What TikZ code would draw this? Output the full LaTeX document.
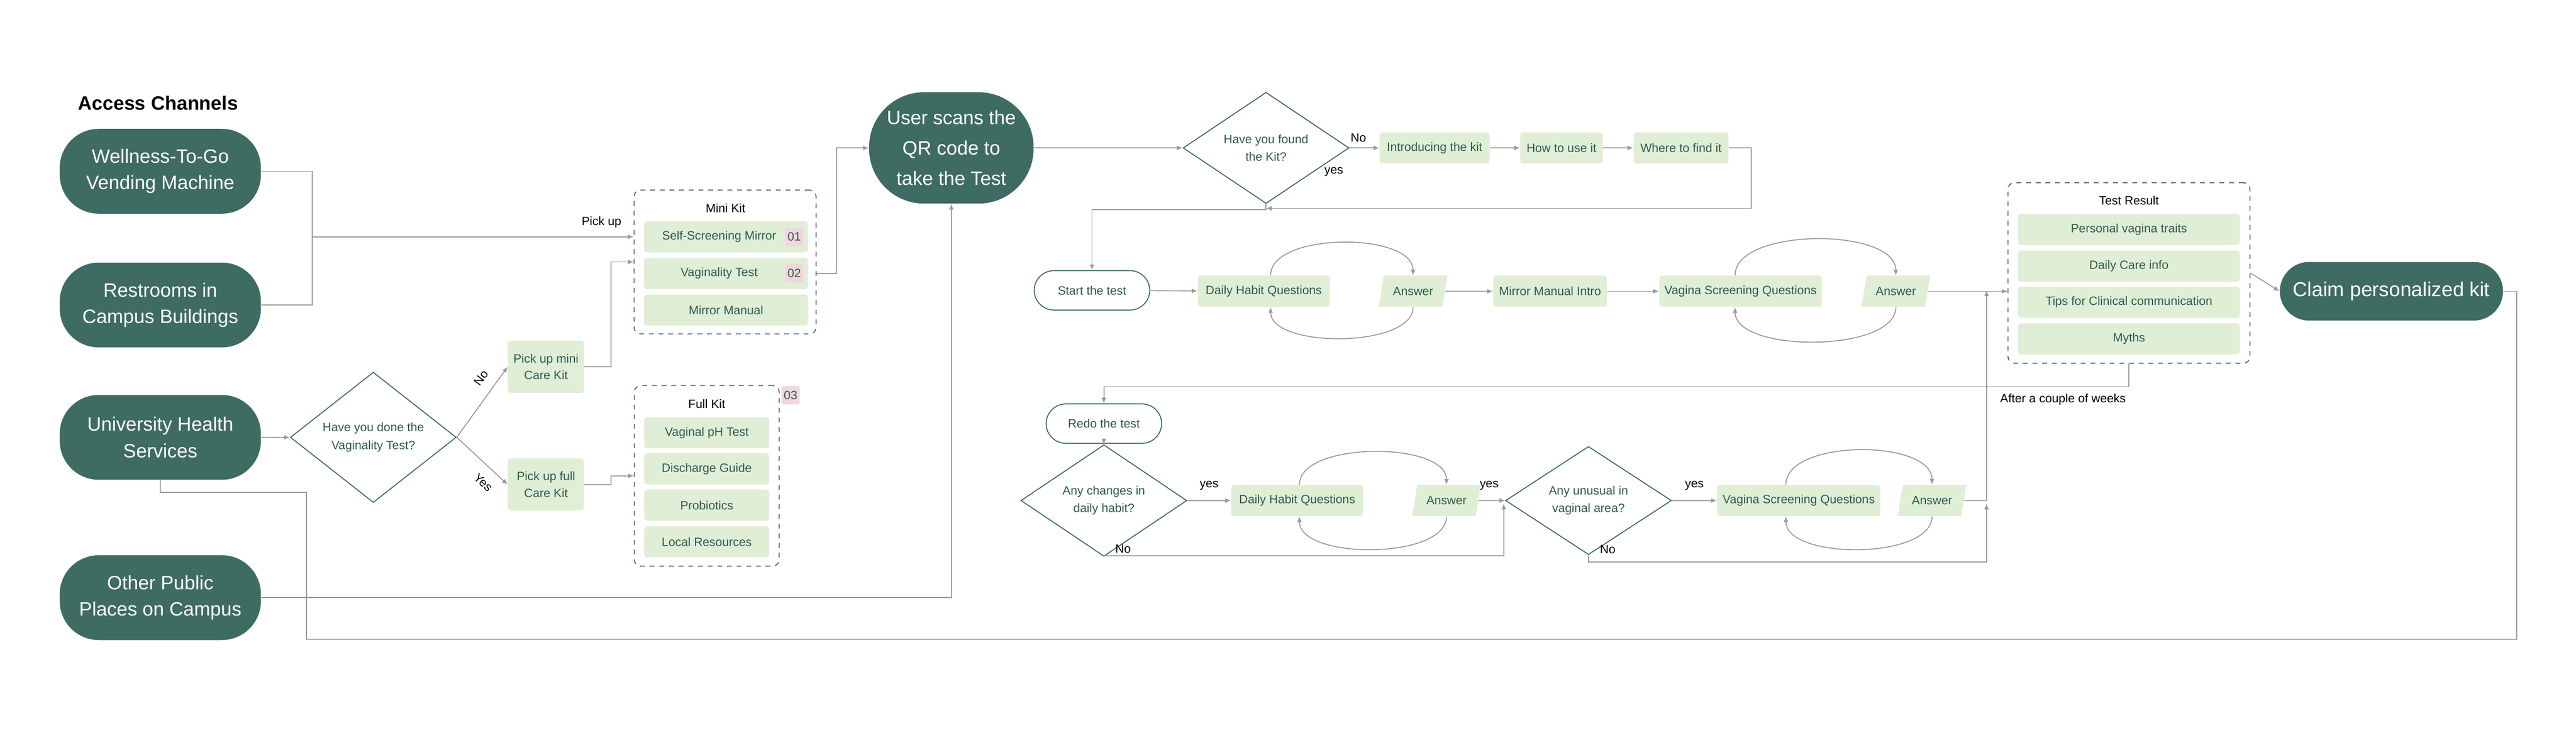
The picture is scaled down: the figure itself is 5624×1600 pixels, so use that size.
\documentclass[tikz,border=0pt]{standalone}
\usepackage{fontspec}
\setmainfont{Liberation Sans}
\usetikzlibrary{shapes.geometric,arrows.meta,positioning}
\definecolor{dkgreen}{HTML}{3E6B62}
\definecolor{ltgreen}{HTML}{E0EED6}
\definecolor{txtgreen}{HTML}{2E5B4F}
\definecolor{tagpink}{HTML}{F1D6DF}
\definecolor{linegray}{HTML}{9A9A9A}
\tikzset{
  channel/.style={fill=dkgreen, text=white, rounded corners=0.85cm, minimum width=4.39cm,
    minimum height=1.85cm, align=center, font=\fontsize{12}{16.5}\selectfont},
  item/.style={fill=ltgreen, text=txtgreen, rounded corners=2pt, minimum height=0.68cm,
    inner sep=2pt, align=center, font=\fontsize{7.5}{10.5}\selectfont},
  answer/.style={trapezium, trapezium left angle=72, trapezium right angle=108,
    trapezium stretches=true, fill=ltgreen, text=txtgreen, minimum width=1.5cm,
    minimum height=0.68cm, inner sep=1pt, font=\fontsize{7.5}{10}\selectfont},
  decision/.style={diamond, draw=dkgreen, line width=0.6pt, text=txtgreen, inner sep=0pt,
    minimum width=3.62cm, minimum height=1.73cm, align=center, font=\fontsize{7.5}{11}\selectfont},
  term/.style={draw=dkgreen, line width=0.6pt, text=txtgreen, rounded corners=0.43cm,
    minimum width=2.52cm, minimum height=0.86cm, font=\fontsize{7.5}{10}\selectfont},
  kitbox/.style={draw=dkgreen, dashed, line width=0.6pt, rounded corners=4pt},
  tag/.style={fill=tagpink, text=txtgreen, rounded corners=1pt, inner sep=1.5pt,
    minimum height=0.4cm, font=\fontsize{7.5}{9}\selectfont},
  note/.style={text=black, font=\fontsize{7.5}{9}\selectfont},
  link/.style={draw=linegray, line width=0.6pt},
  arr/.style={link, -{Latex[length=3.5pt,width=3pt]}},
}
\begin{document}
\begin{tikzpicture}[x=0.01cm, y=-0.01cm]
\useasboundingbox (0,0) rectangle (5624,1600);

% Access channels
\node[font=\fontsize{12}{14}\selectfont\bfseries] (acc) at (345,225) {Access Channels};
\node[channel] (wel) at (350,374) {Wellness-To-Go\\Vending Machine};
\node[channel] (rest) at (350,666) {Restrooms in\\Campus Buildings};
\node[channel] (uni) at (350,955) {University Health\\Services};
\node[channel] (oth) at (350,1305) {Other Public\\Places on Campus};

% Kits
\node[kitbox, minimum width=3.97cm, minimum height=3.14cm] (minibox) at (1583,572) {};
\node[note] (minit) at (1584,454) {Mini Kit};
\node[item, minimum width=3.58cm] (ssm) at (1585,517) {Self-Screening Mirror\hspace{0.3cm}};
\node[item, minimum width=3.58cm] (vt) at (1585,597) {Vaginality Test\hspace{0.3cm}};
\node[item, minimum width=3.58cm] (mm) at (1585,677) {Mirror Manual};
\node[tag] (t1) at (1734,517) {01};
\node[tag] (t2) at (1734,597) {02};
\node[kitbox, minimum width=3.16cm, minimum height=3.94cm] (fullbox) at (1543,1039) {};
\node[note] (fullt) at (1543,882) {Full Kit};
\node[item, minimum width=2.73cm] (ph) at (1543,945) {Vaginal pH Test};
\node[item, minimum width=2.73cm] (dg) at (1543,1024) {Discharge Guide};
\node[item, minimum width=2.73cm] (pb) at (1543,1103) {Probiotics};
\node[item, minimum width=2.73cm] (lr) at (1543,1183) {Local Resources};
\node[tag] (t3) at (1726,863) {03};

\node[decision] (dq1) at (815,955) {Have you done the\\Vaginality Test?};
\node[item, minimum width=1.66cm, minimum height=1.14cm] (pmini) at (1192,801) {Pick up mini\\Care Kit};
\node[item, minimum width=1.66cm, minimum height=1.14cm] (pfull) at (1192,1058) {Pick up full\\Care Kit};

% Scan and find
\node[fill=dkgreen, text=white, rounded corners=1.2cm, minimum width=3.59cm, minimum height=2.43cm,
  align=center, font=\fontsize{12}{19}\selectfont] (qr) at (2077,323) {User scans the\\QR code to\\take the Test};
\node[decision] (fk) at (2764,323) {Have you found\\the Kit?};
\node[item, minimum width=2.4cm] (intro) at (3132,323) {Introducing the kit};
\node[item, minimum width=1.8cm] (how) at (3409,323) {How to use it};
\node[item, minimum width=2.07cm] (where) at (3670,323) {Where to find it};

% First test
\node[term] (start) at (2384,634) {Start the test};
\node[item, minimum width=2.88cm] (dh1) at (2759,636) {Daily Habit Questions};
\node[answer] (ans1) at (3085,636) {Answer};
\node[item, minimum width=2.48cm] (mmi) at (3384,636) {Mirror Manual Intro};
\node[item, minimum width=3.55cm] (vsq) at (3800,636) {Vagina Screening Questions};
\node[answer] (ans2) at (4139,636) {Answer};

\node[kitbox, minimum width=5.28cm, minimum height=3.94cm] (trbox) at (4648,596) {};
\node[note] (trt) at (4648,438) {Test Result};
\node[item, minimum width=4.84cm] (pvt) at (4648,501) {Personal vagina traits};
\node[item, minimum width=4.84cm] (dci) at (4648,581) {Daily Care info};
\node[item, minimum width=4.84cm] (tcc) at (4648,660) {Tips for Clinical communication};
\node[item, minimum width=4.84cm] (myth) at (4648,740) {Myths};
\node[fill=dkgreen, text=white, rounded corners=0.64cm, minimum width=4.87cm, minimum height=1.28cm,
  font=\fontsize{12.5}{14}\selectfont] (claim) at (5221,636) {Claim personalized kit};

% Redo test
\node[term] (redo) at (2410,925) {Redo the test};
\node[decision] (d1) at (2410,1093) {Any changes in\\daily habit?};
\node[item, minimum width=2.88cm] (dh2) at (2832,1093) {Daily Habit Questions};
\node[answer] (ans3) at (3158,1093) {Answer};
\node[decision] (d2) at (3468,1093) {Any unusual in\\vaginal area?};
\node[item, minimum width=3.56cm] (vs2) at (3927,1093) {Vagina Screening Questions};
\node[answer] (ans4) at (4218,1093) {Answer};
\node[note] (weeks) at (4504,872) {After a couple of weeks};

% Helper points
\coordinate (pk) at (682,517);
\coordinate (j1) at (4337,634);
\coordinate (j2) at (4337,1100);
\coordinate (j3) at (3283,1100);

% Channel connectors
\draw[link] (wel.east) -- (682,374) -- (682,666) -- (rest.east);
\draw[arr] (pk) -- (pk -| minibox.west) node[note, pos=0.9, above=2pt] {Pick up};
\draw[arr] (uni.east) -- (dq1.west);
\draw[arr] (dq1.east) -- (pmini.west) node[note, pos=0.72, sloped, above=3pt] {No};
\draw[arr] (dq1.east) -- (pfull.west) node[note, pos=0.72, sloped, below=3pt] {Yes};
\draw[arr] (pmini.east) -- ++(58,0) |- (minibox.west);
\draw[arr] (pfull.east) -- ++(58,0) |- (fullbox.west);
\draw[arr] (minibox.east |- vt) -- (1827,597) |- (qr.west);
\draw[arr] (oth.east) -| (qr.south);
\draw[link] (uni.south) -- (350,1075) -- (669,1075) -- (669,1396) -- (5495,1396) |- (claim.east);

% Find the kit
\draw[arr] (qr.east) -- (fk.west);
\draw[arr] (fk.east) -- (intro.west) node[note, pos=0.3, above] {No};
\draw[arr] (intro) -- (how);
\draw[arr] (how) -- (where);
\draw[arr] (where.east) -- (3823,323) -- (3823,455) -- (2764,455);
\draw[arr] (fk.south) -- (2764,458) -- (2384,458) -- (start.north);
\node[note] (yes0) at (2912,375) {yes};

% First test flow
\draw[arr] (start) -- (dh1);
\draw[arr] ([xshift=0.15cm]dh1.north) .. controls +(0,-95) and +(0,-95) .. (ans1.north);
\draw[arr] (ans1.south) .. controls +(0,90) and +(0,90) .. ([xshift=0.15cm]dh1.south);
\draw[arr] (ans1) -- (mmi);
\draw[arr] (mmi) -- (vsq);
\draw[arr] ([xshift=-0.12cm]vsq.north) .. controls +(0,-105) and +(0,-105) .. (ans2.north);
\draw[arr] (ans2.south) .. controls +(0,100) and +(0,100) .. ([xshift=-0.12cm]vsq.south);
\draw[arr] (ans2.east) -- (ans2.east -| trbox.west);
\draw[arr] (trbox.east) -- (claim.west);
\draw[arr] (trbox.south) -- ++(0,50) -| (redo.north);

% Redo flow
\draw[arr] (redo) -- (d1);
\draw[arr] (d1.east) -- (dh2.west) node[note, pos=0.5, above=3pt] {yes};
\draw[arr] ([xshift=0.05cm]dh2.north) .. controls +(0,-95) and +(0,-95) .. (ans3.north);
\draw[arr] (ans3.south) .. controls +(0,95) and +(0,95) .. ([xshift=0.05cm]dh2.south);
\draw[arr] (ans3.east) -- (d2.west) node[note, pos=0.4, above=3pt] {yes};
\draw[arr] (d2.east) -- (vs2.west) node[note, pos=0.5, above=3pt] {yes};
\draw[arr] ([xshift=-0.28cm]vs2.north) .. controls +(0,-100) and +(0,-100) .. (ans4.north);
\draw[arr] (ans4.south) .. controls +(0,95) and +(0,95) .. ([xshift=-0.28cm]vs2.south);
\draw[arr] (ans4.east) -- (4337,1093) -- (j1);
\draw[arr] (d1.south) -- (2410,1214) -- (3283,1214) -- (j3);
\draw[arr] (d2.south) -- (3468,1227) -- (4337,1227) -- (j2);
\node[note] (no1) at (2452,1198) {No};
\node[note] (no2) at (3510,1200) {No};
\end{tikzpicture}
\end{document}
